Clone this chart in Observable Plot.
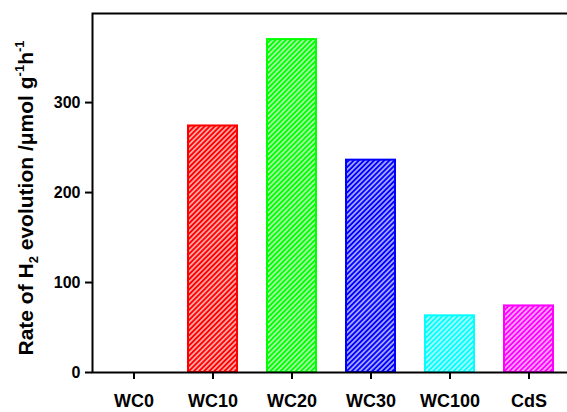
<!DOCTYPE html>
<html>
<head>
<meta charset="utf-8">
<script src="https://cdn.jsdelivr.net/npm/d3@7"></script>
<script src="https://cdn.jsdelivr.net/npm/@observablehq/plot@0.6"></script>
<style>
  body { margin: 0; background: #fff; }
  svg { font-family: "Liberation Sans", Arial, sans-serif; font-weight: bold; }
  g[aria-label^="x-axis"] text { font-size: 18px; font-weight: bold; fill: #000; }
  g[aria-label^="y-axis"] text { font-size: 16px; font-weight: bold; fill: #000; }
  g[aria-label^="x-axis"] line, g[aria-label^="x-axis"] path,
  g[aria-label^="y-axis"] line, g[aria-label^="y-axis"] path { stroke-width: 2px; stroke: #000; }
</style>
</head>
<body>
<div id="chart"></div>
<script>
const categories = ["WC0", "WC10", "WC20", "WC30", "WC100", "CdS"];
const rates = [0, 274, 370, 236, 63, 74];
const barColors = ["#000000", "#ff0000", "#00ff00", "#0000ff", "#00ffff", "#ff00ff"];
const yTicks = [0, 100, 200, 300];

const rows = categories.map((name, i) => ({name, value: rates[i], color: barColors[i]}));

const plot = Plot.plot({
  width: 567,
  height: 412,
  marginLeft: 92,
  marginRight: -4,
  marginTop: 13,
  marginBottom: 40,
  x: {domain: categories, paddingInner: 0.375, paddingOuter: 0.1875, tickSize: 7, tickPadding: 15, label: null},
  y: {domain: [0, 399], ticks: yTicks, tickSize: 7, tickPadding: 5, label: null, tickFormat: d => String(d)},
  marks: [
    Plot.barY(rows, {x: "name", y: "value", fill: "color", stroke: "color", strokeWidth: 2}),
    Plot.frame({stroke: "#000", strokeWidth: 2})
  ]
});

const svg = d3.select(plot);
const defs = svg.insert("defs", ":first-child");
barColors.forEach((c, i) => {
  const p = defs.append("pattern")
    .attr("id", "hatch" + i)
    .attr("patternUnits", "userSpaceOnUse")
    .attr("width", 3.6)
    .attr("height", 3.6)
    .attr("patternTransform", "rotate(45)");
  p.append("rect").attr("width", 3.6).attr("height", 3.6).attr("fill", c);
  p.append("line").attr("x1", 1.8).attr("x2", 1.8).attr("y1", -1).attr("y2", 5)
    .attr("stroke", "#fff").attr("stroke-width", 1.15);
});
svg.selectAll('g[aria-label="bar"] rect').each(function() {
  const f = (this.getAttribute("fill") || "").toLowerCase();
  const idx = barColors.indexOf(f);
  if (idx >= 0) this.setAttribute("fill", `url(#hatch${idx})`);
});

// y-axis title with subscript / superscripts
const t = svg.append("text")
  .attr("transform", "translate(33,198) rotate(-90)")
  .attr("text-anchor", "middle")
  .attr("font-size", 21)
  .attr("font-weight", "bold")
  .attr("fill", "#000");
t.append("tspan").text("Rate of H");
t.append("tspan").attr("dy", 5).attr("font-size", 13).text("2");
t.append("tspan").attr("dy", -5).text(" evolution /\u03bcmol g");
t.append("tspan").attr("dy", -9).attr("font-size", 13).text("-1");
t.append("tspan").attr("dy", 9).text("h");
t.append("tspan").attr("dy", -9).attr("font-size", 13).text("-1");

document.getElementById("chart").appendChild(plot);
</script>
</body>
</html>
